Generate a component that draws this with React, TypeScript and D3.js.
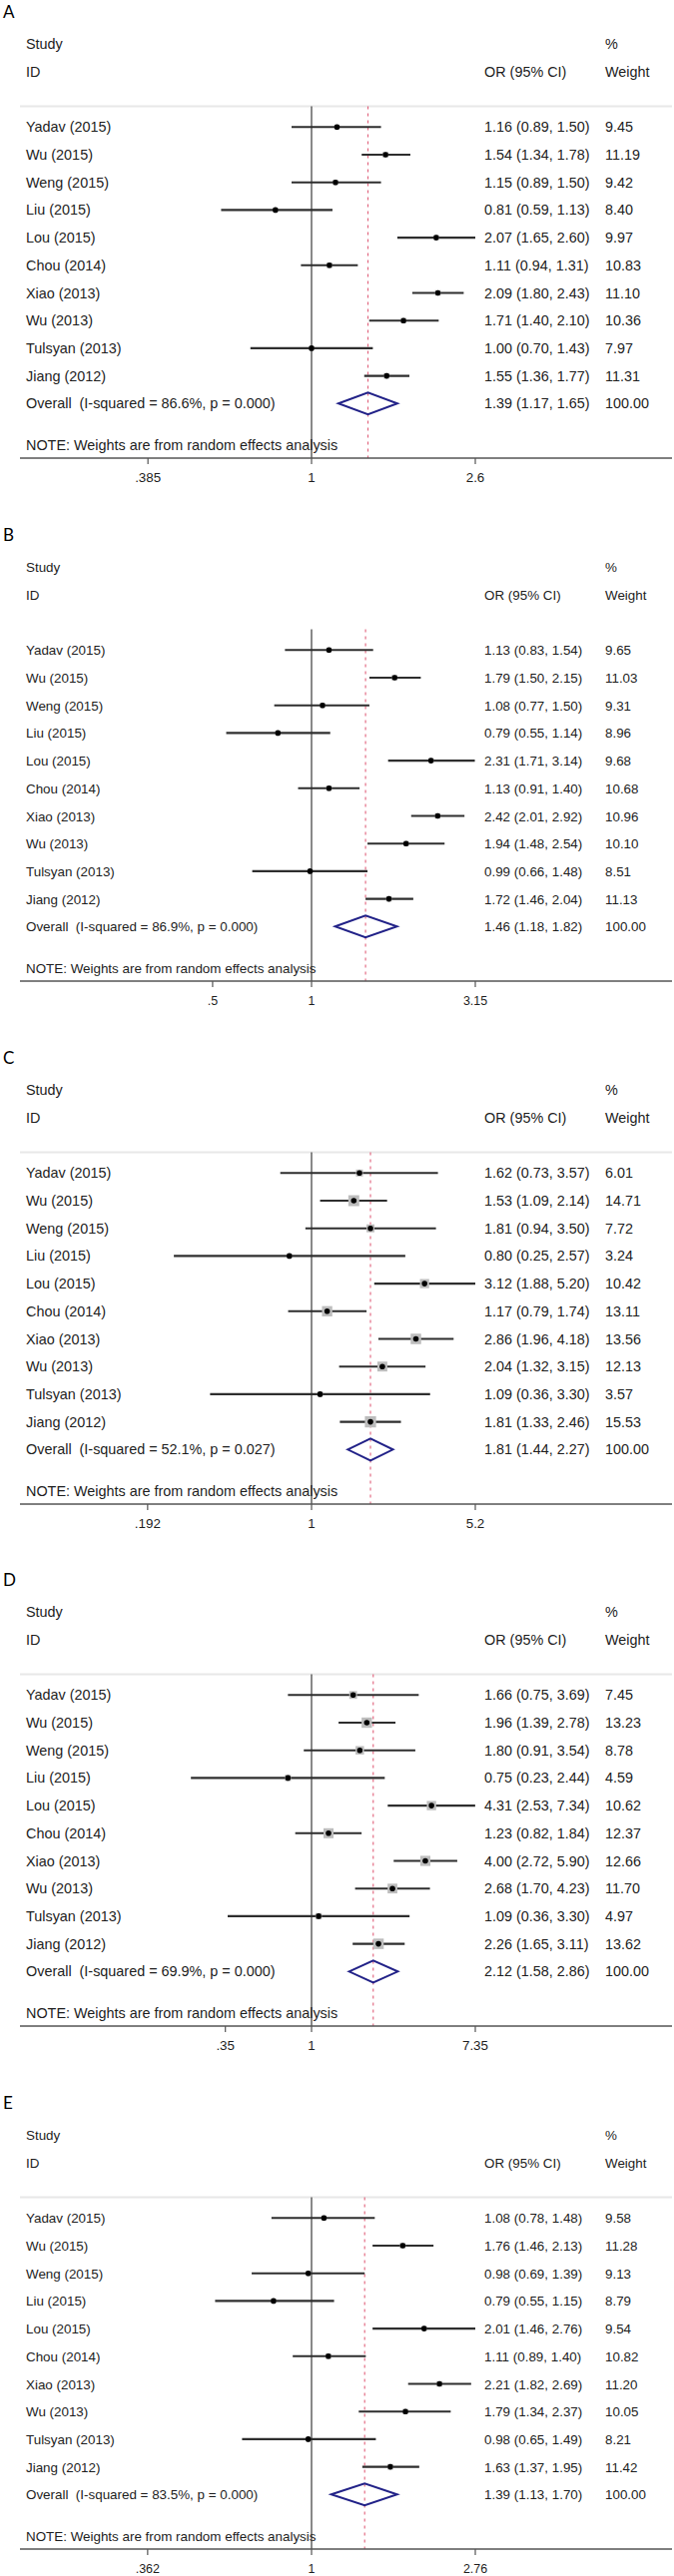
import React, { useEffect } from 'react';
import * as d3 from 'd3';

// ---------- data ----------
const studies = ['Yadav (2015)', 'Wu (2015)', 'Weng (2015)', 'Liu (2015)', 'Lou (2015)', 'Chou (2014)', 'Xiao (2013)', 'Wu (2013)', 'Tulsyan (2013)', 'Jiang (2012)'];
const panelLetters = ['A', 'B', 'C', 'D', 'E'];

const orA = [1.16, 1.54, 1.15, 0.81, 2.07, 1.11, 2.09, 1.71, 1.0, 1.55];
const lowA = [0.89, 1.34, 0.89, 0.59, 1.65, 0.94, 1.8, 1.4, 0.7, 1.36];
const upA = [1.5, 1.78, 1.5, 1.13, 2.6, 1.31, 2.43, 2.1, 1.43, 1.77];
const wA = [9.45, 11.19, 9.42, 8.4, 9.97, 10.83, 11.1, 10.36, 7.97, 11.31];
const overallA = [1.39, 1.17, 1.65];
const hetA = ['86.6', '0.000'];
const ticksA = [0.385, 1, 2.6];
const tickLabelsA = ['.385', '1', '2.6'];

const orB = [1.13, 1.79, 1.08, 0.79, 2.31, 1.13, 2.42, 1.94, 0.99, 1.72];
const lowB = [0.83, 1.5, 0.77, 0.55, 1.71, 0.91, 2.01, 1.48, 0.66, 1.46];
const upB = [1.54, 2.15, 1.5, 1.14, 3.14, 1.4, 2.92, 2.54, 1.48, 2.04];
const wB = [9.65, 11.03, 9.31, 8.96, 9.68, 10.68, 10.96, 10.1, 8.51, 11.13];
const overallB = [1.46, 1.18, 1.82];
const hetB = ['86.9', '0.000'];
const ticksB = [0.5, 1, 3.15];
const tickLabelsB = ['.5', '1', '3.15'];

const orC = [1.62, 1.53, 1.81, 0.8, 3.12, 1.17, 2.86, 2.04, 1.09, 1.81];
const lowC = [0.73, 1.09, 0.94, 0.25, 1.88, 0.79, 1.96, 1.32, 0.36, 1.33];
const upC = [3.57, 2.14, 3.5, 2.57, 5.2, 1.74, 4.18, 3.15, 3.3, 2.46];
const wC = [6.01, 14.71, 7.72, 3.24, 10.42, 13.11, 13.56, 12.13, 3.57, 15.53];
const overallC = [1.81, 1.44, 2.27];
const hetC = ['52.1', '0.027'];
const ticksC = [0.192, 1, 5.2];
const tickLabelsC = ['.192', '1', '5.2'];

const orD = [1.66, 1.96, 1.8, 0.75, 4.31, 1.23, 4.0, 2.68, 1.09, 2.26];
const lowD = [0.75, 1.39, 0.91, 0.23, 2.53, 0.82, 2.72, 1.7, 0.36, 1.65];
const upD = [3.69, 2.78, 3.54, 2.44, 7.34, 1.84, 5.9, 4.23, 3.3, 3.11];
const wD = [7.45, 13.23, 8.78, 4.59, 10.62, 12.37, 12.66, 11.7, 4.97, 13.62];
const overallD = [2.12, 1.58, 2.86];
const hetD = ['69.9', '0.000'];
const ticksD = [0.35, 1, 7.35];
const tickLabelsD = ['.35', '1', '7.35'];

const orE = [1.08, 1.76, 0.98, 0.79, 2.01, 1.11, 2.21, 1.79, 0.98, 1.63];
const lowE = [0.78, 1.46, 0.69, 0.55, 1.46, 0.89, 1.82, 1.34, 0.65, 1.37];
const upE = [1.48, 2.13, 1.39, 1.15, 2.76, 1.4, 2.69, 2.37, 1.49, 1.95];
const wE = [9.58, 11.28, 9.13, 8.79, 9.54, 10.82, 11.2, 10.05, 8.21, 11.42];
const overallE = [1.39, 1.13, 1.7];
const hetE = ['83.5', '0.000'];
const ticksE = [0.362, 1, 2.76];
const tickLabelsE = ['.362', '1', '2.76'];

const panels = [
  { or: orA, low: lowA, up: upA, w: wA, overall: overallA, het: hetA, ticks: ticksA, tickLabels: tickLabelsA },
  { or: orB, low: lowB, up: upB, w: wB, overall: overallB, het: hetB, ticks: ticksB, tickLabels: tickLabelsB },
  { or: orC, low: lowC, up: upC, w: wC, overall: overallC, het: hetC, ticks: ticksC, tickLabels: tickLabelsC },
  { or: orD, low: lowD, up: upD, w: wD, overall: overallD, het: hetD, ticks: ticksD, tickLabels: tickLabelsD },
  { or: orE, low: lowE, up: upE, w: wE, overall: overallE, het: hetE, ticks: ticksE, tickLabels: tickLabelsE },
];

// ---------- layout / style ----------
const W = 675;
const H = 2581;
const PANEL_STEP = 523.8;
const X_ONE = 312;
const X_RIGHT_TICK = 476;
const LEFT = 20;
const RIGHT = 673;
const LABEL_X = 26;
const OR_X = 485;
const WT_X = 606;
const ROW0 = 127.3;
const ROW_STEP = 27.7;
const SEP_Y = 106.5;
const AXIS_Y = 459;
const FONT = '"Liberation Sans", Arial, sans-serif';
const TEXT = '#1e1e1e';
const fontSizes = [14.4, 13.4, 14.4, 14.4, 13.4];
const boxScale = [1.7, 1.7, 2.85, 2.85, 1.7];
const showSep = [true, false, true, true, true];

const fmt = (v: number) => v.toFixed(2);

function Panel({ idx }: { idx: number }) {
  const p = panels[idx];
  const fs = fontSizes[idx];
  const x = d3.scaleLog().domain([1, p.ticks[2]]).range([X_ONE, X_RIGHT_TICK]);
  const rowY = (i: number) => ROW0 + i * ROW_STEP;
  const oy = rowY(studies.length);
  const [oe, ol, ou] = p.overall;
  const dh = 11;
  const diamond = `M${x(ol)},${oy} L${x(oe)},${oy - dh} L${x(ou)},${oy} L${x(oe)},${oy + dh} Z`;
  const textProps = { fontFamily: FONT, fontSize: fs, fill: TEXT };
  return (
    <g transform={`translate(0, ${Math.round(idx * PANEL_STEP)})`}>
      <text x={3} y={18} fontFamily='Lato, "Open Sans", sans-serif' fontSize={17} fill="#000">{panelLetters[idx]}</text>
      <text x={LABEL_X} y={49} {...textProps}>Study</text>
      <text x={WT_X} y={49} {...textProps}>%</text>
      <text x={LABEL_X} y={77} {...textProps}>ID</text>
      <text x={OR_X} y={77} {...textProps}>OR (95% CI)</text>
      <text x={WT_X} y={77} {...textProps}>Weight</text>
      {showSep[idx] && <line x1={LEFT} x2={RIGHT} y1={SEP_Y} y2={SEP_Y} stroke="#e8e8e8" strokeWidth={2} />}
      {/* null line */}
      <line x1={x(1)} x2={x(1)} y1={SEP_Y} y2={AXIS_Y} stroke="#3a3a3a" strokeWidth={1.2} />
      {/* overall dashed line */}
      <line x1={x(oe)} x2={x(oe)} y1={SEP_Y} y2={AXIS_Y} stroke="#e0607a" strokeWidth={1.1} strokeDasharray="3 4" />
      {studies.map((s, i) => {
        const y = rowY(i);
        const side = boxScale[idx] * Math.sqrt(p.w[i]);
        return (
          <g key={i}>
            <text x={LABEL_X} y={y + 5} {...textProps}>{s}</text>
            <line x1={x(p.low[i])} x2={x(p.up[i])} y1={y} y2={y} stroke="#2e2e2e" strokeWidth={2.1} />
            <rect x={x(p.or[i]) - side / 2} y={y - side / 2} width={side} height={side} fill="#bdbdbd" />
            <circle cx={x(p.or[i])} cy={y} r={2.8} fill="#000" />
            <text x={OR_X} y={y + 5} {...textProps}>{`${fmt(p.or[i])} (${fmt(p.low[i])}, ${fmt(p.up[i])})`}</text>
            <text x={WT_X} y={y + 5} {...textProps}>{fmt(p.w[i])}</text>
          </g>
        );
      })}
      <text x={LABEL_X} y={oy + 5} {...textProps} style={{ whiteSpace: 'pre' }}>{`Overall  (I-squared = ${p.het[0]}%, p = ${p.het[1]})`}</text>
      <path d={diamond} fill="none" stroke="#222288" strokeWidth={2} strokeLinejoin="miter" />
      <text x={OR_X} y={oy + 5} {...textProps}>{`${fmt(oe)} (${fmt(ol)}, ${fmt(ou)})`}</text>
      <text x={WT_X} y={oy + 5} {...textProps}>100.00</text>
      <text x={LABEL_X} y={451} {...textProps}>NOTE: Weights are from random effects analysis</text>
      {/* axis */}
      <line x1={LEFT} x2={RIGHT} y1={AXIS_Y} y2={AXIS_Y} stroke="#555" strokeWidth={1.6} />
      {p.ticks.map((t, i) => (
        <g key={t}>
          <line x1={x(t)} x2={x(t)} y1={AXIS_Y} y2={AXIS_Y + 6} stroke="#555" strokeWidth={1.2} />
          <text x={x(t)} y={483} textAnchor="middle" fontFamily={FONT} fontSize={fs * 0.93} fill={TEXT}>{p.tickLabels[i]}</text>
        </g>
      ))}
    </g>
  );
}

export default function App() {
  useEffect(() => {
    document.body.style.margin = '0';
  }, []);
  return (
    <svg width={W} height={H} viewBox={`0 0 ${W} ${H}`} style={{ position: 'absolute', left: 0, top: 0, background: '#fff' }}>
      <rect x={0} y={0} width={W} height={H} fill="#fff" />
      {panels.map((_, i) => <Panel key={i} idx={i} />)}
    </svg>
  );
}
